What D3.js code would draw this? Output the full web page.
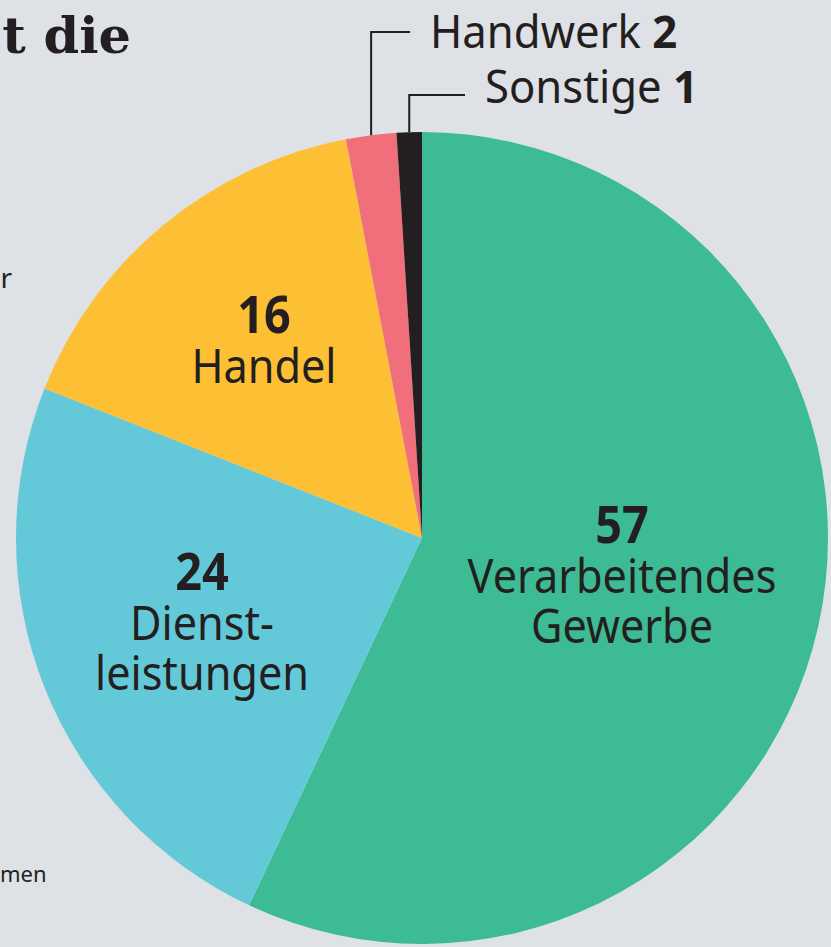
<!DOCTYPE html>
<html>
<head>
<meta charset="utf-8">
<script src="https://cdn.jsdelivr.net/npm/d3@7"></script>
<style>
  html, body { margin: 0; padding: 0; background: #dee1e5; overflow: hidden; }
  svg { display: block; }
</style>
</head>
<body>
<div id="chart"></div>
<script>
// Anteile in Prozent, im Uhrzeigersinn ab 12 Uhr
const categories = ["Verarbeitendes Gewerbe", "Dienstleistungen", "Handel", "Handwerk", "Sonstige"];
const values = [57, 24, 16, 2, 1];
const labelLines = [["Verarbeitendes", "Gewerbe"], ["Dienst-", "leistungen"], ["Handel"], ["Handwerk"], ["Sonstige"]];
const colors = ["#3dbb94", "#63c9d8", "#fdbf33", "#f06f7a", "#231f20"];

const width = 831, height = 947;
const cx = 422, cy = 538, radius = 406;
const ink = "#231f20";
const font = "'Noto Sans', 'Open Sans', sans-serif";
const squeeze = 0.9; // schmalere Schrift wie im Original

const svg = d3.select("#chart").append("svg")
    .attr("width", width)
    .attr("height", height);

// abgeschnittene Reste des umgebenden Textes
svg.append("text")
    .attr("x", 131).attr("y", 53)
    .attr("text-anchor", "end")
    .style("font", "bold 51px 'DejaVu Serif', serif")
    .style("fill", ink)
    .text("t die");
svg.append("text")
    .attr("x", 12).attr("y", 288)
    .attr("text-anchor", "end")
    .style("font", "28px " + font)
    .style("fill", ink)
    .text("r");
svg.append("text")
    .attr("x", 0).attr("y", 882)
    .style("font", "22px " + font)
    .style("fill", ink)
    .text("men");

const data = categories.map((c, i) => ({name: c, value: values[i], lines: labelLines[i], color: colors[i]}));

const pie = d3.pie().sort(null).value(d => d.value);
const arcs = pie(data);
const arc = d3.arc().innerRadius(0).outerRadius(radius);

const g = svg.append("g").attr("transform", `translate(${cx},${cy})`);

g.selectAll("path")
    .data(arcs)
    .enter().append("path")
    .attr("d", arc)
    .attr("fill", d => d.data.color);

// Beschriftung innen (große Segmente): Zahl fett, darunter Name
const inner = [
    {i: 0, x: 200, y: 5},
    {i: 1, x: -220, y: 52},
    {i: 2, x: -158, y: -205}
];
const lineH = 50;
inner.forEach(p => {
    const d = arcs[p.i].data;
    const t = g.append("text")
        .attr("transform", `translate(${p.x},${p.y}) scale(${squeeze},1)`)
        .attr("text-anchor", "middle")
        .style("font", "48px " + font)
        .style("fill", ink);
    t.append("tspan")
        .attr("x", 0).attr("y", 0)
        .style("font-weight", "bold")
        .style("font-size", "52px")
        .text(d.value);
    d.lines.forEach((l, k) => {
        t.append("tspan")
            .attr("x", 0)
            .attr("y", lineH + k * lineH)
            .text(l);
    });
});

// Beschriftung außen mit Führungslinie (kleine Segmente)
const outer = [
    {i: 3, lineY: -506, textX: 8, baseY: -490},
    {i: 4, lineY: -443, textX: 63, baseY: -435}
];
outer.forEach(p => {
    const a = arcs[p.i];
    const mid = (a.startAngle + a.endAngle) / 2;
    const px = radius * Math.sin(mid);
    const py = -radius * Math.cos(mid);
    g.append("path")
        .attr("d", `M${px},${py}V${p.lineY}H${p.textX - 20}`)
        .attr("fill", "none")
        .attr("stroke", ink)
        .attr("stroke-width", 2);
    const t = g.append("text")
        .attr("transform", `translate(${p.textX},${p.baseY}) scale(0.97,1)`)
        .style("font", "45px " + font)
        .style("fill", ink);
    t.append("tspan").text(a.data.lines[0] + " ");
    t.append("tspan").style("font-weight", "bold").text(a.data.value);
});
</script>
</body>
</html>
